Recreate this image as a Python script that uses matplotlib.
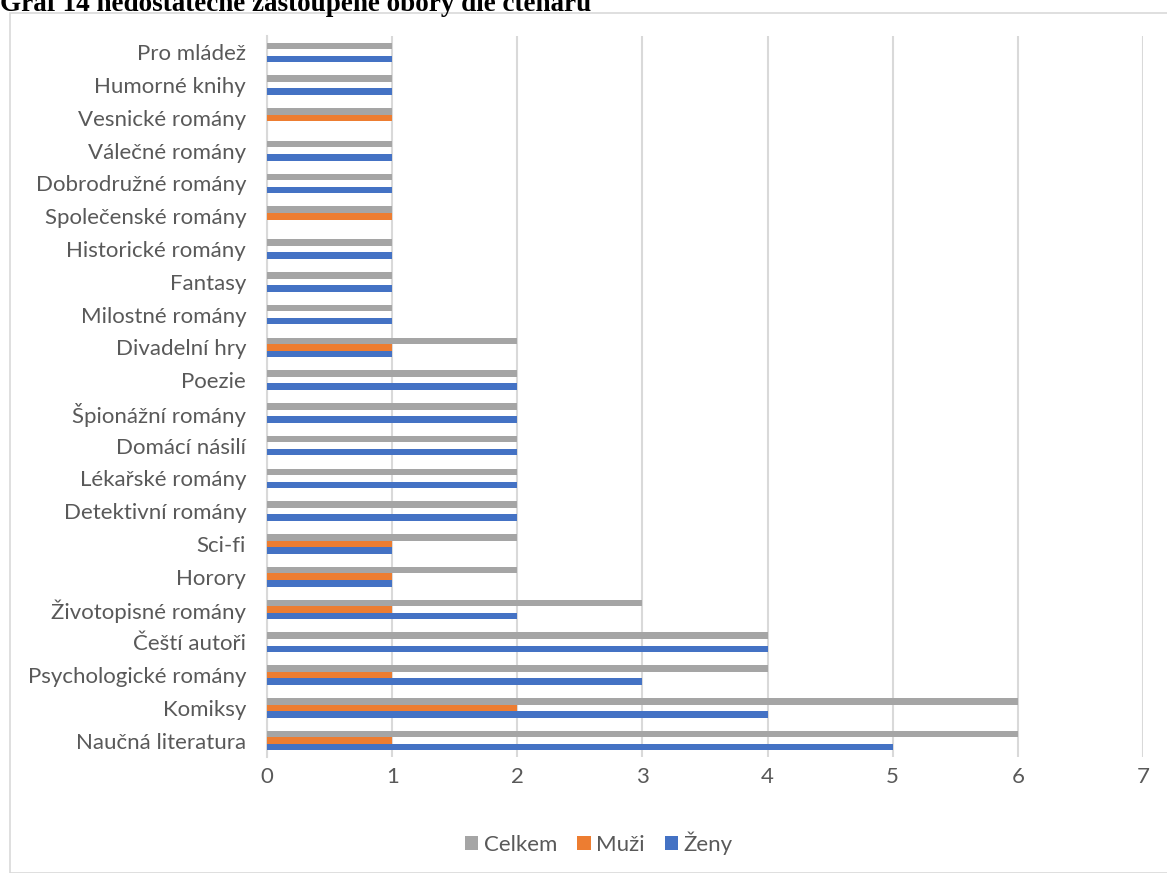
import matplotlib.pyplot as plt
import numpy as np
from matplotlib.patches import Rectangle

# Kategorie odspodu nahoru (jak je kreslí Excel)
categories = [
    "Naučná literatura", "Komiksy", "Psychologické romány", "Čeští autoři",
    "Životopisné romány", "Horory", "Sci-fi", "Detektivní romány",
    "Lékařské romány", "Domácí násilí", "Špionážní romány", "Poezie",
    "Divadelní hry", "Milostné romány", "Fantasy", "Historické romány",
    "Společenské romány", "Dobrodružné romány", "Válečné romány",
    "Vesnické romány", "Humorné knihy", "Pro mládež",
]
celkem = [6, 6, 4, 4, 3, 2, 2, 2, 2, 2, 2, 2, 2, 1, 1, 1, 1, 1, 1, 1, 1, 1]
muzi = [1, 2, 1, 0, 1, 1, 1, 0, 0, 0, 0, 0, 1, 0, 0, 0, 1, 0, 0, 1, 0, 0]
zeny = [5, 4, 3, 4, 2, 1, 1, 2, 2, 2, 2, 2, 1, 1, 1, 1, 0, 1, 1, 0, 1, 1]

plt.rcParams['font.family'] = ['Lato', 'DejaVu Sans']

fig = plt.figure(figsize=(11.67, 8.73), dpi=100)
ax = fig.add_axes([267 / 1167, 1 - 757 / 873, (1143 - 267) / 1167, 721 / 873])

y = np.arange(len(categories))
h = 0.2
ax.barh(y + h, celkem, height=h, color="#A5A5A5", label="Celkem", zorder=3)
ax.barh(y, muzi, height=h, color="#ED7D31", label="Muži", zorder=3)
ax.barh(y - h, zeny, height=h, color="#4472C4", label="Ženy", zorder=3)

ax.set_xlim(0, 7)
ax.set_ylim(-0.5, len(categories) - 0.5)
ax.set_xticks(range(8))
ax.set_yticks(y)
ax.set_yticklabels(categories)
ax.tick_params(axis='both', length=0, labelsize=16, colors="#595959")
ax.tick_params(axis='x', pad=7)
ax.tick_params(axis='y', pad=15)
ax.grid(axis='x', color="#D9D9D9", linewidth=1.5, zorder=0)
for s in ['top', 'right', 'bottom']:
    ax.spines[s].set_visible(False)
ax.spines['left'].set_color("#D9D9D9")
ax.spines['left'].set_linewidth(1.5)

leg = fig.legend(loc='center', bbox_to_anchor=(599 / 1167, 1 - 843 / 873), ncol=3,
                 frameon=False, fontsize=16, handlelength=0.6, handleheight=0.6,
                 handletextpad=0.25, columnspacing=0.9)
for t in leg.get_texts():
    t.set_color("#595959")

# rámeček grafu
fig.patches.append(Rectangle((10 / 1167, 0), 1.2, 1 - 13 / 873, transform=fig.transFigure,
                             fill=False, edgecolor="#D9D9D9", linewidth=1.2))

fig.text(0.0, 1 - 11 / 873, "Graf 14 nedostatečně zastoupené obory dle čtenářů",
         family="Liberation Serif", fontweight="bold", fontsize=19.5, va="baseline", ha="left")

fig.savefig("out.png", dpi=100)
